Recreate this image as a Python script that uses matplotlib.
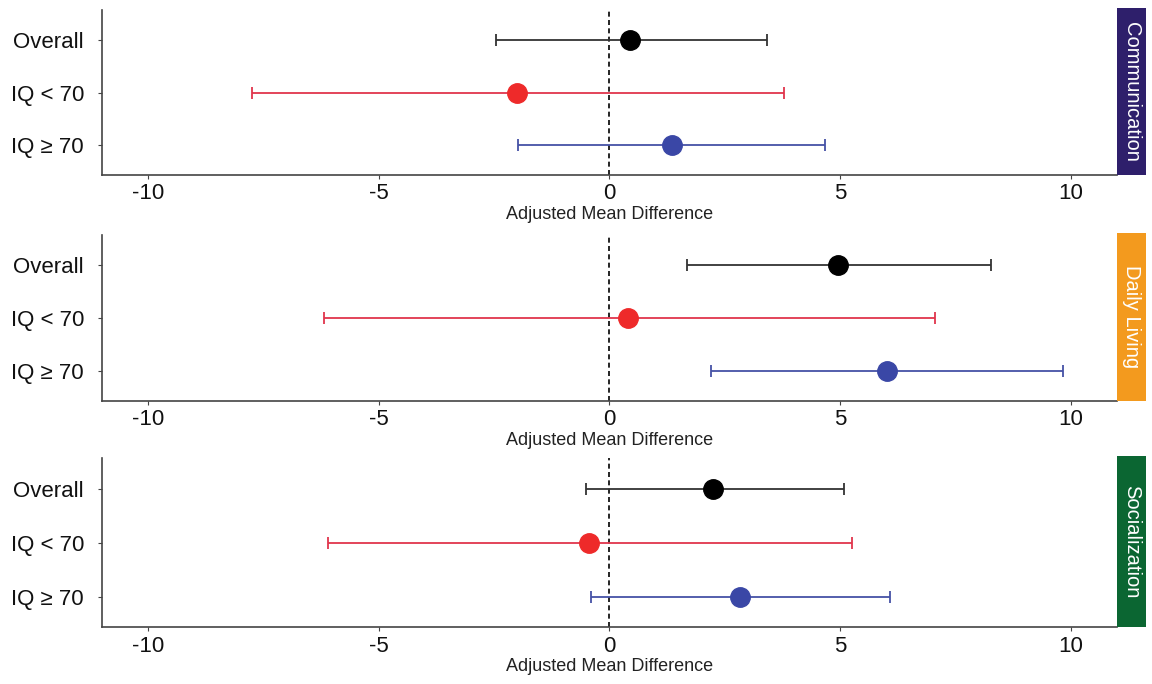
import matplotlib.pyplot as plt

plt.rcParams['font.family'] = ['Liberation Sans', 'DejaVu Sans']

# data
domains = ['Communication', 'Daily Living', 'Socialization']
strip_colors = ['#2E1F6B', '#F39A1E', '#0B6632']
groups = ['Overall', 'IQ < 70', 'IQ \u2265 70']
point_colors = ['#000000', '#EE2A2A', '#3A47A6']
line_colors = ['#333333', '#E0354C', '#4552A6']

est = [[0.45, -2.01, 1.36],
       [4.95, 0.41, 6.02],
       [2.25, -0.45, 2.84]]
lower = [[-2.47, -7.74, -1.99],
         [1.67, -6.19, 2.19],
         [-0.50, -6.11, -0.39]]
upper = [[3.42, 3.79, 4.68],
         [8.28, 7.06, 9.83],
         [5.09, 5.26, 6.08]]

fig = plt.figure(figsize=(11.52, 6.84), dpi=100)

# panel boxes in figure fractions
tops = [0.985, 0.656, 0.330]
bottoms = [0.744, 0.414, 0.083]
left, right = 0.0885, 0.9696

ypos = [3, 2, 1]
for i in range(3):
    ax = fig.add_axes([left, bottoms[i], right - left, tops[i] - bottoms[i]])
    for j in range(3):
        ax.errorbar(est[i][j], ypos[j],
                    xerr=[[est[i][j] - lower[i][j]], [upper[i][j] - est[i][j]]],
                    fmt='none', ecolor=line_colors[j], elinewidth=1.3,
                    capsize=4, capthick=1.3, zorder=2)
        ax.plot(est[i][j], ypos[j], 'o', color=point_colors[j],
                markersize=14, zorder=3)
    ax.axvline(0, color='black', linestyle=(0, (3, 2)), linewidth=1.2, zorder=1)
    ax.set_xlim(-11, 11)
    ax.set_ylim(0.43, 3.57)
    ax.set_xticks([-10, -5, 0, 5, 10])
    ax.set_xticklabels(['-10', '-5', '0', '5', '10'])
    ax.set_yticks(ypos)
    ax.set_yticklabels(groups)
    ax.tick_params(axis='both', labelsize=16, length=3, color='#444444',
                   labelcolor='#111111')
    ax.tick_params(axis='x', pad=3)
    ax.tick_params(axis='y', pad=10)
    ax.set_xlabel('Adjusted Mean Difference', fontsize=13, labelpad=1,
                  color='#222222')
    for s in ['top', 'right']:
        ax.spines[s].set_visible(False)
    for s in ['left', 'bottom']:
        ax.spines[s].set_color('#444444')
        ax.spines[s].set_linewidth(1.2)

    # coloured strip with the domain name
    sx = fig.add_axes([right, bottoms[i], 0.0252, tops[i] - bottoms[i] + 0.003])
    sx.set_facecolor(strip_colors[i])
    sx.set_xticks([])
    sx.set_yticks([])
    for s in sx.spines.values():
        s.set_visible(False)
    sx.text(0.5, 0.5, domains[i], rotation=-90, color='white', fontsize=14.5,
            ha='center', va='center', transform=sx.transAxes)

fig.savefig('out.png', dpi=100)
